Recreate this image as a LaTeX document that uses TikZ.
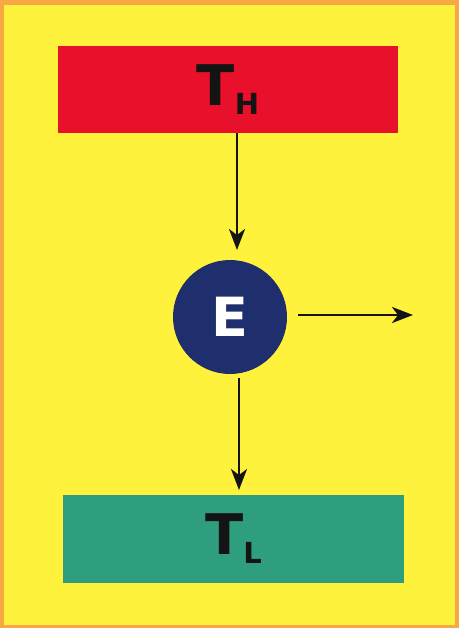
\documentclass[tikz,border=0pt]{standalone}
\usepackage{fontspec}
\setmainfont{DejaVu Sans}
\usetikzlibrary{arrows.meta}
\definecolor{bgyellow}{HTML}{FFF23C}
\definecolor{bgorange}{HTML}{F7A845}
\definecolor{hotred}{HTML}{E8102A}
\definecolor{coldgreen}{HTML}{2E9E7E}
\definecolor{engblue}{HTML}{1F2F6E}
\definecolor{labelink}{HTML}{141414}
\tikzset{
  res/.style={draw=none, minimum height=87pt, inner sep=0pt, font=\bfseries\fontsize{56}{56}\selectfont, text=labelink},
  arr/.style={line width=2.8pt, draw=labelink, -{Stealth[length=21pt,width=16pt,inset=6pt]}},
}
\newcommand{\sublab}[1]{\raisebox{-9pt}{\fontsize{29}{29}\selectfont #1}}
\begin{document}
\begin{tikzpicture}[x=1pt,y=-1pt]
\fill[bgorange] (0,0) rectangle (459,628);
\fill[bgyellow] (4,5) rectangle (455,625);
\useasboundingbox (0,0) rectangle (459,628);
\node[res, fill=hotred, minimum width=340pt, minimum height=87pt] (th) at (228,89.5) {T\sublab{H}};
\node[res, fill=coldgreen, minimum width=341pt, minimum height=88pt] (tl) at (233.5,539) {T\sublab{L}};
\node[circle, fill=engblue, minimum size=114pt, inner sep=0pt, text=white, font=\bfseries\fontsize{54}{54}\selectfont] (e) at (230,317) {E};
\coordinate (a1) at (237,250);
\coordinate (a3) at (239,490);
\coordinate (w) at (413,315);
\draw[arr] (th.south -| a1) -- (a1);
\draw[arr] ([yshift=-4pt]e.south -| a3) -- (a3);
\draw[arr] ([xshift=11pt,yshift=2pt]e.east) -- (w);
\end{tikzpicture}
\end{document}
